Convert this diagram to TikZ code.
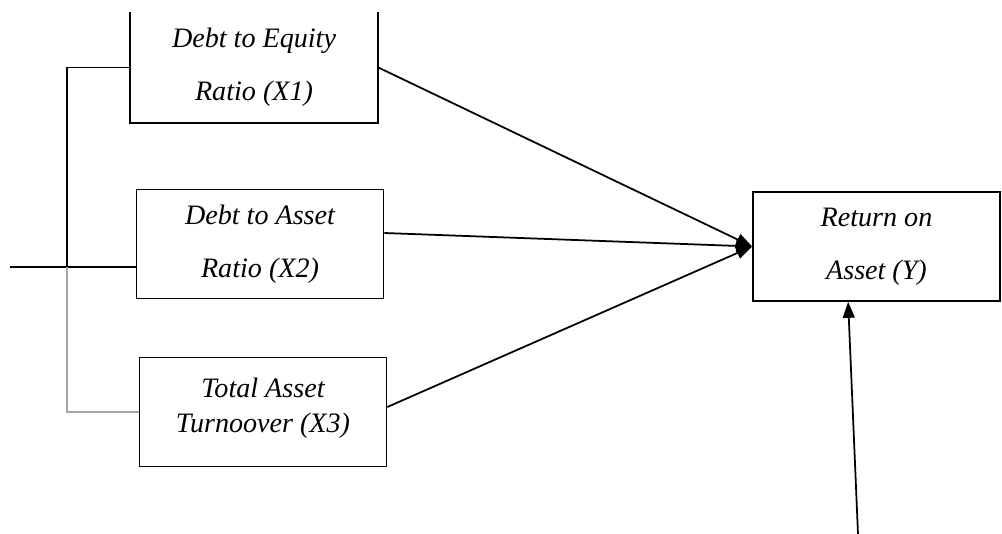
\documentclass[tikz,border=0pt]{standalone}
\usepackage{fontspec}
\setmainfont{Liberation Serif}
\usetikzlibrary{arrows.meta, positioning}

\begin{document}
\begin{tikzpicture}[x=0.02cm, y=-0.02cm, >={Triangle[length=3.2mm, width=2.4mm]},
  varbox/.style={draw, line width=1pt, minimum width=4.94cm, minimum height=2.18cm,
    align=center, inner sep=0pt, font=\itshape\fontsize{16}{30}\selectfont},
  link/.style={->, line width=1pt}]
\useasboundingbox (0,0) rectangle (1002,534);
% variables
\node[varbox, draw=none] (x1) at (254,67.5) {Debt to Equity\\Ratio (X1)};
\draw[line width=1pt] (x1.north west) -- (x1.south west) -- (x1.south east) -- (x1.north east);
\node[varbox] (x2) at (260,244) {Debt to Asset\\Ratio (X2)};
\node[varbox] (x3) at (263,412) {Total Asset\\[-10pt]Turnoover (X3)\\[-22pt]\mbox{}};
\node[varbox] (y) at (876.5,246.5) {Return on\\Asset (Y)};
% bracket on the left
\coordinate (spine) at (67,0);
\coordinate (src) at (10,267);
\draw[line width=0.8pt] (x1.west) -- (x1.west -| spine) -- (src -| spine);
\draw[line width=0.8pt] (src) -- (src -| x2.west);
\draw[gray!70, line width=0.6pt] (src -| spine) -- (x3.west -| spine) -- (x3.west);
% arrows to Y
\draw[link] (x1.east) -- (y.west);
\draw[link] ([yshift=0.22cm]x2.east) -- (y.west);
\draw[link] ([yshift=0.1cm]x3.east) -- (y.west);
\coordinate (other) at (858,534);
\draw[link] (other) -- ([xshift=1.92cm]y.south west);
\end{tikzpicture}
\end{document}
